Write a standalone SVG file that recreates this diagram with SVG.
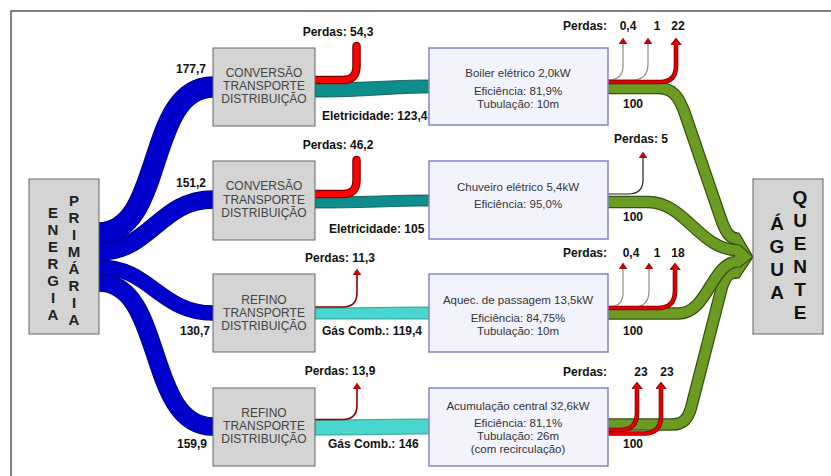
<svg xmlns="http://www.w3.org/2000/svg" width="831" height="476" viewBox="0 0 831 476">
<style>
text{font-family:"Liberation Sans",Arial,sans-serif}
.lbl{font-size:12px;font-weight:bold;fill:#111}
.ptx{font-size:12px;fill:#444;text-anchor:middle}
.stx{font-size:11.5px;fill:#333;text-anchor:middle}
.big{font-size:15px;font-weight:bold;fill:#222;text-anchor:middle}
.big2{font-size:19px;font-weight:bold;fill:#111;text-anchor:middle}
.proc{fill:#d4d4d4;stroke:#666;stroke-width:1}
.serv{fill:#f3f3fd;stroke:#8585c8;stroke-width:1.5}
.bo{fill:none;stroke:#00006e}
.bf{fill:none;stroke:#0000cd}
.teal{fill:#0e8e8a;stroke:#05504e;stroke-width:0.8}
.gas{fill:#48d6cf;stroke:#2a8a86;stroke-width:0.8}
.ro{fill:none;stroke:#7a0000;stroke-width:8.5;stroke-linecap:round}
.rf{fill:none;stroke:#ff0000;stroke-width:6;stroke-linecap:round}
.thin{fill:none;stroke:#8b0000;stroke-width:1.6}
.gray{fill:none;stroke:#8a8a8a;stroke-width:1.2}
.blk{fill:none;stroke:#222;stroke-width:1.2}
.r2o{fill:none;stroke:#7a0000;stroke-width:4.6}
.r2f{fill:none;stroke:#e00000;stroke-width:3}
.go{fill:none;stroke:#34500f;stroke-width:12.4}
.gf{fill:none;stroke:#6b9b23;stroke-width:10}
</style>
<defs>
<marker id="ahs" viewBox="0 0 10 10" refX="2" refY="5" markerWidth="6" markerHeight="8" markerUnits="userSpaceOnUse" orient="auto" preserveAspectRatio="none">
<path d="M0,0 L10,5 L0,10 Z" fill="#cc0000" stroke="#770000" stroke-width="1"/>
</marker>
<marker id="ahb" viewBox="0 0 10 10" refX="2" refY="5" markerWidth="7" markerHeight="11" markerUnits="userSpaceOnUse" orient="auto" preserveAspectRatio="none">
<path d="M0,0 L10,5 L0,10 Z" fill="#e00000" stroke="#770000" stroke-width="1"/>
</marker>
</defs>
<rect width="831" height="476" fill="#ffffff"/>
<path d="M11,476 L11,11 L831,11" fill="none" stroke="#555" stroke-width="1.5"/>

<g id="connectors">
<!-- blue primary energy flows -->
<path class="bo" stroke-width="18.6" d="M99,282.5 C165,282.5 145,426.5 213,426.5"/>
<path class="bf" stroke-width="17" d="M99,282.5 C165,282.5 145,426.5 213,426.5"/>
<path class="bo" stroke-width="15.6" d="M99,267 C150,267 160,313 213,313"/>
<path class="bf" stroke-width="14" d="M99,267 C150,267 160,313 213,313"/>
<path class="bo" stroke-width="18.6" d="M99,251.5 C150,251.5 160,199.5 213,199.5"/>
<path class="bf" stroke-width="17" d="M99,251.5 C150,251.5 160,199.5 213,199.5"/>
<path class="bo" stroke-width="21.6" d="M99,233 C165,233 145,87 213,87"/>
<path class="bf" stroke-width="20" d="M99,233 C165,233 145,87 213,87"/>

<!-- electricity / gas flows -->
<path class="teal" d="M315,83 C370,83 390,80 430,80 L430,93 C390,93 370,97 315,97 Z"/>
<path class="teal" d="M315,197 C370,197 390,195 430,195 L430,206 C390,206 370,208 315,208 Z"/>
<path class="gas" d="M315,308 C370,308 390,307 430,307 L430,319 C390,319 370,319 315,319 Z"/>
<path class="gas" d="M315,420 C370,420 390,419 430,419 L430,434 C390,434 370,435 315,435 Z"/>

<!-- conversion losses -->
<path class="ro" d="M315,80 L343,80 Q356.5,80 356.5,66 L356.5,46"/>
<path class="rf" d="M315,80 L343,80 Q356.5,80 356.5,66 L356.5,46"/>
<path class="ro" d="M315,194 L343,194 Q356.5,194 356.5,180 L356.5,160"/>
<path class="rf" d="M315,194 L343,194 Q356.5,194 356.5,180 L356.5,160"/>
<path class="thin" marker-end="url(#ahs)" d="M315,307 L343,307 Q357,307 357,293 L357,274"/>
<path class="thin" marker-end="url(#ahs)" d="M315,419.5 L343,419.5 Q357,419.5 357,405 L357,388"/>

<!-- green hot water flows -->
<path class="go" d="M608,424.5 L672,424.5 C684,424.5 688,418 691,408 L722,287 C726,275 730,272.5 737,272.5"/>
<path class="gf" d="M608,424.5 L672,424.5 C684,424.5 688,418 691,408 L722,287 C726,275 730,272.5 737,272.5"/>
<path class="go" d="M608,313.5 L678,313.5 C708,313.5 712,262 737,262"/>
<path class="gf" d="M608,313.5 L678,313.5 C708,313.5 712,262 737,262"/>
<path class="go" d="M608,202 L648,202 C685,202 700,250 737,250"/>
<path class="gf" d="M608,202 L648,202 C685,202 700,250 737,250"/>
<path class="go" d="M608,88 L657,88 C673,88 678,96 684,111 L722,222 C727,235 731,238.5 737,238.5"/>
<path class="gf" d="M608,88 L657,88 C673,88 678,96 684,111 L722,222 C727,235 731,238.5 737,238.5"/>
<path d="M735,233.2 L739,233.2 L753,257 L739,277.8 L735,277.8 Z" fill="#6b9b23"/>
<path d="M735,233.2 L739,233.2 L753,257 L739,277.8 L735,277.8" fill="none" stroke="#34500f" stroke-width="1.2"/>
<path d="M733,244.3 L740,245 L753,257 M733,267.3 L740,267 L753,257" fill="none" stroke="#34500f" stroke-width="1.1"/>

<!-- appliance losses -->
<path class="gray" marker-end="url(#ahs)" d="M608,80 Q623,80 623,66 L623,43"/>
<path class="gray" marker-end="url(#ahs)" d="M608,80 L632,80 Q648,80 648,64 L648,43"/>
<path class="r2o" d="M608,82 L660,82 Q676,82 676,66 L676,44"/>
<path class="r2f" marker-end="url(#ahb)" d="M608,82 L660,82 Q676,82 676,66 L676,44"/>

<path class="blk" marker-end="url(#ahs)" d="M608,194 L628,194 Q643,194 643,180 L643,157"/>

<path class="gray" marker-end="url(#ahs)" d="M608,307 Q623,307 623,293 L623,268"/>
<path class="gray" marker-end="url(#ahs)" d="M608,307 L633,307 Q649,307 649,291 L649,268"/>
<path class="r2o" d="M608,308 L658,308 Q675,308 675,291 L675,269"/>
<path class="r2f" marker-end="url(#ahb)" d="M608,308 L658,308 Q675,308 675,291 L675,269"/>

<path class="r2o" d="M608,430 L620,430 Q637,430 637,413 L637,388"/>
<path class="r2f" marker-end="url(#ahb)" d="M608,430 L620,430 Q637,430 637,413 L637,388"/>
<path class="r2o" d="M608,433.5 L644,433.5 Q661,433.5 661,416 L661,388"/>
<path class="r2f" marker-end="url(#ahb)" d="M608,433.5 L644,433.5 Q661,433.5 661,416 L661,388"/>

<!-- flow labels -->
<text class="lbl" x="206" y="72.5" text-anchor="end">177,7</text>
<text class="lbl" x="206" y="186.5" text-anchor="end">151,2</text>
<text class="lbl" x="210" y="334.5" text-anchor="end">130,7</text>
<text class="lbl" x="207" y="447.5" text-anchor="end">159,9</text>
<text class="lbl" x="338" y="35.5" text-anchor="middle">Perdas: 54,3</text>
<text class="lbl" x="338" y="148.5" text-anchor="middle">Perdas: 46,2</text>
<text class="lbl" x="340" y="261.5" text-anchor="middle">Perdas: 11,3</text>
<text class="lbl" x="340" y="374.5" text-anchor="middle">Perdas: 13,9</text>
<text class="lbl" x="322" y="119.5">Eletricidade: 123,4</text>
<text class="lbl" x="329" y="232.5">Eletricidade: 105</text>
<text class="lbl" x="322" y="334.5">Gás Comb.: 119,4</text>
<text class="lbl" x="328" y="447.5">Gás Comb.: 146</text>
<text class="lbl" x="563" y="29.5">Perdas:</text>
<text class="lbl" x="628" y="29.5" text-anchor="middle">0,4</text>
<text class="lbl" x="657" y="29.5" text-anchor="middle">1</text>
<text class="lbl" x="678" y="29.5" text-anchor="middle">22</text>
<text class="lbl" x="614" y="142.5">Perdas: 5</text>
<text class="lbl" x="563" y="256.5">Perdas:</text>
<text class="lbl" x="631" y="256.5" text-anchor="middle">0,4</text>
<text class="lbl" x="657" y="256.5" text-anchor="middle">1</text>
<text class="lbl" x="678" y="256.5" text-anchor="middle">18</text>
<text class="lbl" x="563" y="375.5">Perdas:</text>
<text class="lbl" x="641" y="375.5" text-anchor="middle">23</text>
<text class="lbl" x="667" y="375.5" text-anchor="middle">23</text>
<text class="lbl" x="633" y="107.5" text-anchor="middle">100</text>
<text class="lbl" x="633" y="220.5" text-anchor="middle">100</text>
<text class="lbl" x="633" y="334.5" text-anchor="middle">100</text>
<text class="lbl" x="633" y="447.5" text-anchor="middle">100</text>
</g>

<g id="energia-primaria">
<rect x="29" y="179" width="70" height="155" fill="#d4d4d4" stroke="#666" stroke-width="1"/>
<text class="big" x="53" y="218.3">E</text>
<text class="big" x="53" y="235.3">N</text>
<text class="big" x="53" y="252.3">E</text>
<text class="big" x="53" y="269.3">R</text>
<text class="big" x="53" y="286.3">G</text>
<text class="big" x="53" y="303.3">I</text>
<text class="big" x="53" y="320.3">A</text>
<text class="big" x="74" y="206">P</text>
<text class="big" x="74" y="223">R</text>
<text class="big" x="74" y="240">I</text>
<text class="big" x="74" y="257">M</text>
<text class="big" x="74" y="274">Á</text>
<text class="big" x="74" y="291">R</text>
<text class="big" x="74" y="308">I</text>
<text class="big" x="74" y="325">A</text>
</g>

<g id="conv-eletr-1">
<rect class="proc" x="213" y="48" width="102" height="78"/>
<text class="ptx" x="264" y="76.5">CONVERSÃO</text>
<text class="ptx" x="264" y="89.5">TRANSPORTE</text>
<text class="ptx" x="264" y="102.5">DISTRIBUIÇÃO</text>
</g>
<g id="conv-eletr-2">
<rect class="proc" x="213" y="161" width="102" height="79"/>
<text class="ptx" x="264" y="189.5">CONVERSÃO</text>
<text class="ptx" x="264" y="203.5">TRANSPORTE</text>
<text class="ptx" x="264" y="216.5">DISTRIBUIÇÃO</text>
</g>
<g id="refino-gas-1">
<rect class="proc" x="213" y="274" width="102" height="78"/>
<text class="ptx" x="264" y="303.5">REFINO</text>
<text class="ptx" x="264" y="316.5">TRANSPORTE</text>
<text class="ptx" x="264" y="329.5">DISTRIBUIÇÃO</text>
</g>
<g id="refino-gas-2">
<rect class="proc" x="213" y="388" width="102" height="78"/>
<text class="ptx" x="264" y="416.5">REFINO</text>
<text class="ptx" x="264" y="429.5">TRANSPORTE</text>
<text class="ptx" x="264" y="442.5">DISTRIBUIÇÃO</text>
</g>

<g id="boiler-eletrico">
<rect class="serv" x="429" y="48" width="179" height="77"/>
<text class="stx" x="518" y="77">Boiler elétrico 2,0kW</text>
<text class="stx" x="518" y="94.5">Eficiência: 81,9%</text>
<text class="stx" x="518" y="107.5">Tubulação: 10m</text>
</g>
<g id="chuveiro-eletrico">
<rect class="serv" x="429" y="161" width="179" height="78"/>
<text class="stx" x="518" y="191">Chuveiro elétrico 5,4kW</text>
<text class="stx" x="518" y="208">Eficiência: 95,0%</text>
</g>
<g id="aquec-passagem">
<rect class="serv" x="429" y="274" width="179" height="78"/>
<text class="stx" x="518" y="304">Aquec. de passagem 13,5kW</text>
<text class="stx" x="518" y="321.5">Eficiência: 84,75%</text>
<text class="stx" x="518" y="334.5">Tubulação: 10m</text>
</g>
<g id="acumulacao-central">
<rect class="serv" x="429" y="388" width="179" height="78"/>
<text class="stx" x="518" y="409.5">Acumulação central 32,6kW</text>
<text class="stx" x="518" y="427">Eficiência: 81,1%</text>
<text class="stx" x="518" y="440">Tubulação: 26m</text>
<text class="stx" x="518" y="453">(com recirculação)</text>
</g>

<g id="agua-quente">
<rect x="753" y="179" width="70" height="155" fill="#d4d4d4" stroke="#666" stroke-width="1"/>
<text class="big2" x="777" y="229.5">Á</text>
<text class="big2" x="777" y="252.5">G</text>
<text class="big2" x="777" y="275.5">U</text>
<text class="big2" x="777" y="298.5">A</text>
<text class="big2" x="800" y="204">Q</text>
<text class="big2" x="800" y="227">U</text>
<text class="big2" x="800" y="250">E</text>
<text class="big2" x="800" y="273">N</text>
<text class="big2" x="800" y="296">T</text>
<text class="big2" x="800" y="319">E</text>
</g>
</svg>
